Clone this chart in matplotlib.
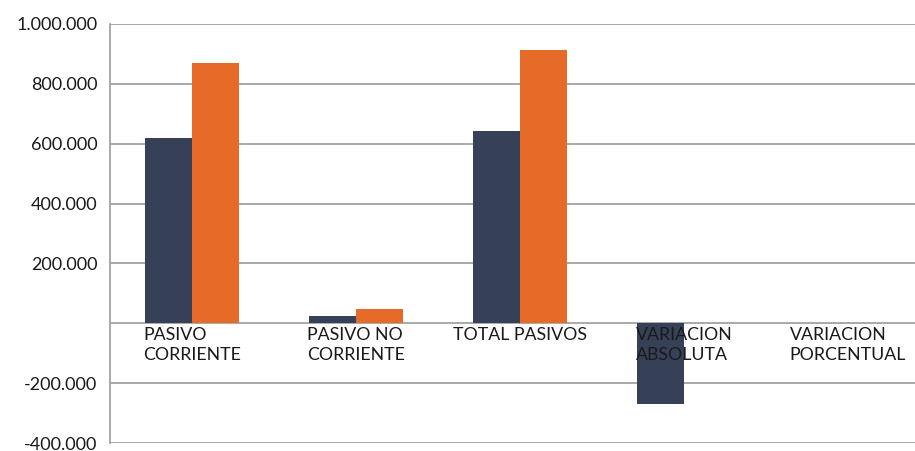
import matplotlib.pyplot as plt
import matplotlib.transforms as mtransforms
import numpy as np
from matplotlib.ticker import FuncFormatter

plt.rcParams['font.family'] = ['Lato', 'DejaVu Sans']

categorias = ['PASIVO\nCORRIENTE', 'PASIVO NO\nCORRIENTE', 'TOTAL PASIVOS',
              'VARIACION\nABSOLUTA', 'VARIACION\nPORCENTUAL']
serie_1 = [620000, 23000, 643000, -270000, 0]
serie_2 = [870000, 47000, 913000, 0, 0]
yticks = [-400000, -200000, 0, 200000, 400000, 600000, 800000, 1000000]

color_1 = '#364158'
color_2 = '#E66A28'
grid_color = '#a3a3a3'


def fmt_miles(v, pos):
    if v == 0:
        return ''
    s = f'{abs(int(v)):,}'.replace(',', '.')
    return ('-' if v < 0 else '') + s


fig = plt.figure(figsize=(9.15, 4.51), dpi=100)
# axis runs past the right edge of the picture, as in the reference
ax = fig.add_axes([110 / 915, 8 / 451, 820 / 915, 419 / 451])

x = np.arange(len(categorias))
w = 0.287
ax.bar(x - w / 2, serie_1, width=w, color=color_1, zorder=2)
ax.bar(x + w / 2, serie_2, width=w, color=color_2, zorder=2)

ax.set_xlim(-0.5, len(categorias) - 0.5)
ax.set_ylim(-400000, 1000000)
ax.set_yticks(yticks)
ax.yaxis.set_major_formatter(FuncFormatter(fmt_miles))
ax.tick_params(axis='y', length=0, pad=9, labelsize=13, labelcolor='#1a1a1a')
ax.set_xticks([])
ax.grid(True, axis='y', color=grid_color, linewidth=1.3, zorder=1)
ax.set_axisbelow(True)

for s in ['top', 'right', 'bottom']:
    ax.spines[s].set_visible(False)
ax.spines['left'].set_color(grid_color)
ax.spines['left'].set_linewidth(1.3)

# category names sit just under the zero line
offset = mtransforms.ScaledTranslation(0, -3 / 72, fig.dpi_scale_trans)
for i, c in enumerate(categorias):
    ax.text(i, 0, c, transform=ax.transData + offset, ha='center', va='top',
            multialignment='left', fontsize=12.8, color='#1a1a1a',
            linespacing=1.3, zorder=5)

fig.savefig('out.png', dpi=100)
